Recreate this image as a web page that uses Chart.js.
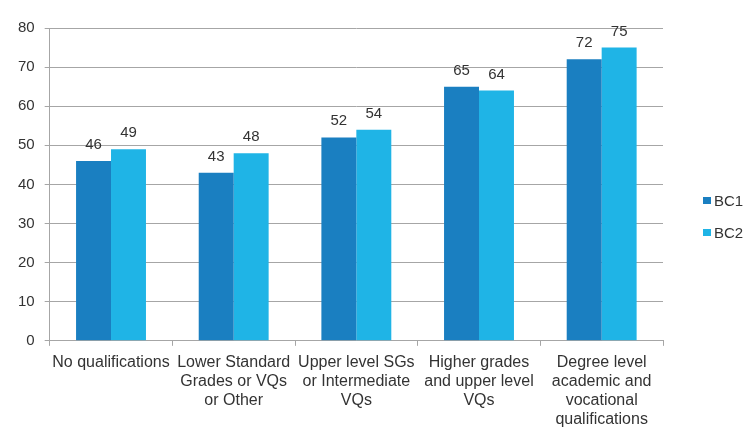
<!DOCTYPE html>
<html>
<head>
<meta charset="utf-8">
<title>BC1 / BC2 by qualification</title>
<script src="https://cdn.jsdelivr.net/npm/chart.js@4/dist/chart.umd.min.js"></script>
<style>
  html, body { margin: 0; padding: 0; background: #fff; }
  canvas { display: block; }
</style>
</head>
<body>
<canvas id="chart" width="755" height="440"></canvas>
<script>
// chart data
const categories = [
  'No qualifications',
  ['Lower Standard', 'Grades or VQs', 'or Other'],
  ['Upper level SGs', 'or Intermediate', 'VQs'],
  ['Higher grades', 'and upper level', 'VQs'],
  ['Degree level', 'academic and', 'vocational', 'qualifications']
];
const bc1Values = [46, 43, 52, 65, 72];
const bc2Values = [49, 48, 54, 64, 75];
const yTicks = [0, 10, 20, 30, 40, 50, 60, 70, 80];

const FONT = 'Liberation Sans, Arial, sans-serif';
const TEXT = '#333333';
const GRID = '#a6a6a6';

// numbers above each bar
const valueLabels = {
  id: 'valueLabels',
  afterDatasetsDraw(chart) {
    const ctx = chart.ctx;
    ctx.save();
    ctx.font = '15px ' + FONT;
    ctx.fillStyle = TEXT;
    ctx.textAlign = 'center';
    ctx.textBaseline = 'alphabetic';
    chart.data.datasets.forEach((ds, i) => {
      chart.getDatasetMeta(i).data.forEach((bar, j) => {
        ctx.fillText(ds.data[j], bar.x, bar.y - 12);
      });
    });
    ctx.restore();
  }
};

// legend on the right, small squares
const sideLegend = {
  id: 'sideLegend',
  afterDraw(chart) {
    const ctx = chart.ctx;
    ctx.save();
    ctx.font = '15px ' + FONT;
    ctx.textBaseline = 'middle';
    chart.data.datasets.forEach((ds, i) => {
      const y = 202 + i * 32;
      ctx.fillStyle = ds.backgroundColor;
      ctx.fillRect(703, y - 5, 8, 7);
      ctx.fillStyle = TEXT;
      ctx.fillText(ds.label, 714, y);
    });
    ctx.restore();
  }
};

const ctx = document.getElementById('chart').getContext('2d');
new Chart(ctx, {
  type: 'bar',
  data: {
    labels: categories,
    datasets: [
      { label: 'BC1', data: bc1Values, backgroundColor: '#1a7fc1' },
      { label: 'BC2', data: bc2Values, backgroundColor: '#1fb4e6' }
    ]
  },
  options: {
    responsive: false,
    animation: false,
    devicePixelRatio: 1,
    layout: { padding: { left: 8, right: 92, top: 28, bottom: 4 } },
    datasets: {
      bar: { barPercentage: 1, categoryPercentage: 0.57 }
    },
    plugins: {
      legend: { display: false },
      tooltip: { enabled: false }
    },
    scales: {
      x: {
        grid: {
          offset: true,
          drawOnChartArea: false,
          color: GRID,
          tickLength: 5
        },
        border: { color: GRID },
        ticks: {
          color: TEXT,
          font: { family: FONT, size: 16, lineHeight: 1.19 },
          maxRotation: 0,
          autoSkip: false,
          padding: 7
        }
      },
      y: {
        min: 0,
        max: 80,
        afterBuildTicks(scale) {
          scale.ticks = yTicks.map(v => ({ value: v }));
        },
        grid: { color: GRID, tickLength: 5 },
        border: { color: GRID },
        ticks: {
          color: TEXT,
          font: { family: FONT, size: 15 },
          padding: 10
        }
      }
    }
  },
  plugins: [valueLabels, sideLegend]
});
</script>
</body>
</html>
